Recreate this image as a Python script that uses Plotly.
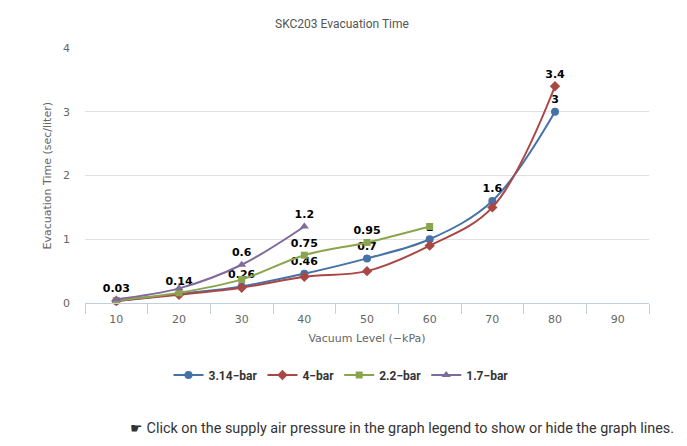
import plotly.graph_objects as go

vacuum = [10, 20, 30, 40, 50, 60, 70, 80]
s314 = [0.03, 0.14, 0.26, 0.46, 0.7, 1, 1.6, 3]
s4 = [0.03, 0.13, 0.24, 0.41, 0.5, 0.9, 1.5, 3.4]
s22 = [0.04, 0.16, 0.37, 0.75, 0.95, 1.2]
s17 = [0.06, 0.23, 0.6, 1.2]

# which data labels are visible (others hidden by overlap in original)
lab314 = [1, 1, 1, 1, 1, 1, 1, 1]
lab4 = [0, 0, 0, 0, 0, 0, 0, 1]
lab22 = [0, 0, 0, 1, 1, 0]
lab17 = [0, 0, 1, 1]

series = [
    ("3.14\u2212bar", s314, lab314, "#4572A7", "circle", 8),
    ("4\u2212bar", s4, lab4, "#AA4643", "diamond", 8),
    ("2.2\u2212bar", s22, lab22, "#89A54E", "square", 7),
    ("1.7\u2212bar", s17, lab17, "#80699B", "triangle-up", 8),
]

# page body has an 8px default margin; figure is sized to fit the window
W, H = 679, 438
L, T, R, B = 77, 40, 38, 143
PH = H - T - B
PW = W - L - R

fig = go.Figure()
for name, vals, labs, color, sym, size in series:
    xs = vacuum[:len(vals)]
    texts = [f"{v:g}" if show else "" for v, show in zip(vals, labs)]
    fig.add_trace(go.Scatter(
        x=xs, y=vals, name=name, mode="lines+markers+text",
        line=dict(color=color, width=2, shape="spline", smoothing=1),
        marker=dict(color=color, symbol=sym, size=size),
        text=texts, textposition="top center",
        textfont=dict(family="DejaVu Sans", size=11, color="#000000", weight="bold"),
        cliponaxis=False,
    ))

fig.update_layout(
    width=W, height=H,
    margin=dict(l=L, r=R, t=T, b=B, autoexpand=False),
    paper_bgcolor="white", plot_bgcolor="white",
    showlegend=True,
    legend=dict(orientation="h", x=(341 - 8 - L) / PW, xanchor="center",
                y=-72 / PH, yanchor="middle",
                font=dict(family="Roboto", size=12, color="#333333", weight="bold"),
                itemwidth=30, tracegroupgap=0),
    xaxis=dict(range=[5, 95], tickmode="array", tickvals=[10, 20, 30, 40, 50, 60, 70, 80, 90],
               ticktext=["10", "20", "30", "40", "50", "60", "70", "80", "90"],
               showgrid=False, zeroline=False, showline=True, linecolor="#C0D0E0", linewidth=1,
               ticks="", ticklabelstandoff=6, tickfont=dict(family="DejaVu Sans", size=11, color="#666666"),
               minor=dict(tickmode="linear", tick0=5, dtick=10, ticks="outside", ticklen=10,
                          tickcolor="#C0D0E0", showgrid=False),
               title=dict(text="Vacuum Level (\u2212kPa)", standoff=9,
                          font=dict(family="DejaVu Sans", size=11, color="#666666"))),
    yaxis=dict(range=[0, 4], tickvals=[0, 1, 2, 3, 4], showgrid=True, gridcolor="#e0e0e0",
               zeroline=False, showline=False, ticks="", ticklabelstandoff=14,
               tickfont=dict(family="DejaVu Sans", size=11, color="#666666")),
    title=dict(text="SKC203 Evacuation Time", x=(342 - 8) / W, xref="container", y=1 - 16 / H, yref="container",
               xanchor="center", yanchor="middle",
               font=dict(family="Roboto", size=12, color="#555555")),
    annotations=[
        dict(text="Evacuation Time (sec/liter)", xref="paper", yref="paper", x=0, y=0.5,
             xshift=-(85 - 47), xanchor="center", yanchor="middle", textangle=-90, showarrow=False,
             font=dict(family="DejaVu Sans", size=11, color="#666666")),
        dict(text="\u261b Click on the supply air pressure in the graph legend to show or hide the graph lines.",
             xref="paper", yref="paper", x=(668 - L) / PW, y=-125 / PH,
             xanchor="right", yanchor="middle", showarrow=False,
             font=dict(family="Roboto", size=14.4, color="#333333")),
    ],
)

fig.write_html("out.html")
